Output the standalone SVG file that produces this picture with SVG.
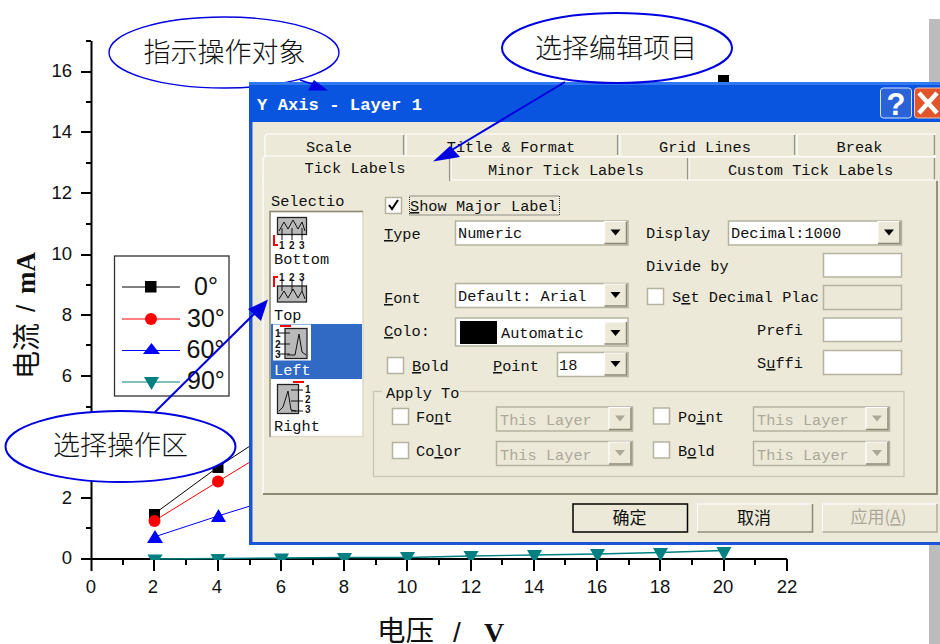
<svg xmlns="http://www.w3.org/2000/svg" width="940" height="644" viewBox="0 0 940 644">
<style>
.tick{font:18.5px "Liberation Sans",Arial,sans-serif;fill:#111}
.leg{font:25px "Liberation Sans",Arial,sans-serif;fill:#111}
.axis{stroke:#000;stroke-width:2;fill:none}
.m{font:15.3px "Liberation Mono","DejaVu Sans Mono",monospace;fill:#111}
.dis{fill:#aca899}
.call{fill:#fff;stroke:#0000e0;stroke-width:2}
.ct{font:27px "Noto Sans CJK SC",sans-serif;font-weight:300;fill:#111;text-anchor:middle}
.btnt{font:17px "Noto Sans CJK SC",sans-serif;fill:#111;text-anchor:middle}
.wb{fill:#fff;stroke:#b5b29e;stroke-width:1.5}
.cb{fill:#fff;stroke:#b5b29e;stroke-width:1.5}
.ah{fill:#000}
.dah{fill:#aca899}
.tab{fill:#ece9d8;stroke:#fff;stroke-width:1.2}
.tabr{stroke:#9a9684;stroke-width:1.5}
.ib{fill:#b9b9b9;stroke:#222;stroke-width:1.3}
.il{fill:none;stroke:#111;stroke-width:1}
.rd{fill:none;stroke:#f00;stroke-width:2}
.in{font:bold 10px "Liberation Sans",sans-serif;fill:#111}
</style>
<defs>
<clipPath id="plotclip"><rect x="92" y="40" width="700" height="520"/></clipPath>
<polygon id="dn" points="-7.500,-6.500 7.500,-6.500 0,7" fill="#008080"/>
<g id="bevel"><rect x="-11" y="-11" width="22" height="22" fill="#ece9d8"/><path d="M-11 11V-11H11" fill="none" stroke="#fff" stroke-width="1.200"/><path d="M-11 11H11V-11" fill="none" stroke="#8c8975" stroke-width="1.500"/></g>
<g id="arrow-btn"><use href="#bevel"/><polygon points="-5,-3 5,-3 0,3" class="ah"/></g>
<g id="arrow-dis"><use href="#bevel"/><polygon points="-5,-3 5,-3 0,3" class="dah"/></g>
</defs>
<rect width="940" height="644" fill="#fff"/>
<g id="gray-strip"><rect x="929" y="19" width="11" height="625" fill="#bcbcbc"/></g>

<g id="plot">
<path class="axis" d="M91.500 41V559H787M81 72H91M81 132H91M81 193H91M81 255H91M81 315H91M81 376H91M81 437H91M81 498H91M81 559H91M86 41H91M86 102H91M86 163H91M86 224H91M86 285H91M86 345H91M86 407H91M86 467H91M86 528H91"/>
<path class="axis" d="M91.500 559V571M154 559V571M218 559V571M281 559V571M344 559V571M407 559V571M471 559V571M534 559V571M597 559V571M660 559V571M724 559V571M787 559V571M123 559V565M186 559V565M250 559V565M313 559V565M376 559V565M439 559V565M502 559V565M565 559V565M629 559V565M692 559V565M755 559V565"/>
<g class="tick" text-anchor="end">
<text x="72" y="77">16</text><text x="72" y="138">14</text><text x="72" y="199">12</text><text x="72" y="260">10</text><text x="72" y="321">8</text><text x="72" y="382">6</text><text x="72" y="504">2</text><text x="72" y="564">0</text>
</g>
<g class="tick" text-anchor="middle">
<text x="91" y="593">0</text><text x="153" y="593">2</text><text x="217" y="593">4</text><text x="281" y="593">6</text><text x="344" y="593">8</text><text x="407" y="593">10</text><text x="471" y="593">12</text><text x="534" y="593">14</text><text x="597" y="593">16</text><text x="660" y="593">18</text><text x="723" y="593">20</text><text x="787" y="593">22</text>
</g>
<text transform="translate(37,379) rotate(-90)" font-family="'Noto Sans CJK SC',sans-serif" font-size="28" fill="#111">电流</text>
<text transform="translate(35,312) rotate(-90)" font-family="'Liberation Sans',sans-serif" font-size="26" fill="#111">/</text>
<text transform="translate(35,294) rotate(-90)" font-family="'Liberation Serif',serif" font-size="27" font-weight="bold" fill="#111">mA</text>
<text x="377" y="641" font-family="'Noto Sans CJK SC',sans-serif" font-size="28.500" fill="#111">电压</text>
<text x="453" y="642" font-family="'Liberation Sans',sans-serif" font-size="28" fill="#111">/</text>
<text x="484" y="642" font-family="'Liberation Serif',serif" font-size="28" font-weight="bold" fill="#111">V</text>

<g clip-path="url(#plotclip)">
<polyline points="154,514 218,467 250,446" fill="none" stroke="#000" stroke-width="1"/>
<polyline points="154,521 218,481.500 250,462" fill="none" stroke="#f00" stroke-width="1"/>
<polyline points="154,537 218,516 250,506" fill="none" stroke="#00f" stroke-width="1"/>
<rect x="149" y="509" width="11" height="11" fill="#000"/>
<rect x="212.500" y="462" width="11" height="11" fill="#000"/>
<rect x="718" y="75" width="11" height="11" fill="#000"/>
<circle cx="154.500" cy="521" r="6" fill="#f00"/>
<circle cx="218" cy="481.500" r="6" fill="#f00"/>
<polygon points="155,530 163,543 147,543" fill="#00f"/>
<polygon points="218.500,509 226,522 211,522" fill="#00f"/>
<polyline points="154,559 218,558.500 281,558 344,557.500 407,557.500 471,556 534,555 597,554 660,552.500 724,550.500" fill="none" stroke="#008080" stroke-width="1.300"/>
<use href="#dn" x="155" y="561"/><use href="#dn" x="218" y="560.500"/><use href="#dn" x="281.500" y="560"/><use href="#dn" x="344.500" y="559.500"/><use href="#dn" x="407.500" y="558.500"/><use href="#dn" x="471" y="557.500"/><use href="#dn" x="534.500" y="556.500"/><use href="#dn" x="597.500" y="555.500"/><use href="#dn" x="660.500" y="554.500"/><use href="#dn" x="724" y="553.500"/>
</g>
</g>

<g id="legend">
<rect x="114.500" y="256" width="114.500" height="140" fill="#fff" stroke="#333" stroke-width="1.300"/>
<line x1="122" y1="287" x2="180" y2="287" stroke="#000" stroke-width="1"/><rect x="145" y="281" width="11.500" height="11.500" fill="#000"/>
<line x1="122" y1="319" x2="180" y2="319" stroke="#f00" stroke-width="1"/><circle cx="151" cy="319" r="6" fill="#f00"/>
<line x1="122" y1="350.500" x2="180" y2="350.500" stroke="#00f" stroke-width="1"/><polygon points="151.500,343 160,354 143,354" fill="#00f"/>
<line x1="122" y1="382" x2="180" y2="382" stroke="#008080" stroke-width="1"/><polygon points="144,377 159,377 151.500,390" fill="#008080"/>
<text class="leg" x="194" y="295">0°</text><text class="leg" x="187" y="327">30°</text><text class="leg" x="186.500" y="358">60°</text><text class="leg" x="187" y="389">90°</text>
</g>

<g id="callout-object"><ellipse class="call" style="stroke-width:1.400" cx="224" cy="52.500" rx="115" ry="35.500"/><text class="ct" x="224.500" y="62">指示操作对象</text></g>

<g id="dialog">
<rect x="249" y="82" width="691" height="463" fill="#1a54d8"/>
<rect x="249" y="82" width="691" height="40" fill="#0a55e0"/>
<rect x="249" y="82" width="691" height="3" fill="#2f7af0"/>
<rect x="252.500" y="122" width="690" height="420" fill="#ece9d8"/>
<text x="257" y="110" font-family="'Liberation Mono',monospace" font-weight="bold" font-size="17.200" fill="#fff">Y Axis - Layer 1</text>
<g id="help-button"><rect x="880.500" y="88" width="31" height="30" rx="3" fill="#2a63d8" stroke="#d6e2fb" stroke-width="1"/><text x="896" y="115" text-anchor="middle" font-family="'Liberation Sans',sans-serif" font-weight="bold" font-size="31" fill="#fff">?</text></g>
<g id="close-button"><rect x="914.500" y="88" width="30" height="30" rx="3" fill="#e2552a" stroke="#f4c7b5" stroke-width="1"/><path d="M919 93L937 113M937 93L919 113" stroke="#fff" stroke-width="4.500" fill="none"/></g>

<g id="tabs">
<path class="tab" d="M265 157V136L267 134H403V157Z"/><path class="tab" d="M406 157V134H617V157Z"/><path class="tab" d="M620 157V134H794V157Z"/><path class="tab" d="M797 157V134H935V157Z"/>
<path class="tabr" d="M403.500 135V155M617.500 135V155M794.500 135V155M934.500 135V155" fill="none"/>
<path class="tab" d="M451 181V157H687V181Z"/><path class="tab" d="M689 181V157H935V181Z"/>
<path class="tabr" d="M687.500 158V180M934.500 158V180" fill="none"/>
<path d="M263 494V180H937V494Z" fill="#ece9d8"/>
<path d="M263 494V180H449M451 180H936" fill="none" stroke="#fff" stroke-width="1.200"/>
<path d="M263 494H937V181" fill="none" stroke="#8c8975" stroke-width="1.800"/>
<path d="M263 181V158L265 156H449V181" fill="#ece9d8" stroke="#fff" stroke-width="1.200"/>
<path d="M449.500 158V181" stroke="#9a9684" stroke-width="1.500"/>
<rect x="264" y="178" width="185" height="4" fill="#ece9d8"/>
<g class="m" text-anchor="middle">
<text x="329" y="151.500">Scale</text><text x="511" y="151.500">Title &amp; Format</text><text x="705" y="151.500">Grid Lines</text><text x="859.500" y="151.500">Break</text>
<text x="355" y="172.500">Tick Labels</text><text x="566" y="174.500">Minor Tick Labels</text><text x="810.500" y="174.500">Custom Tick Labels</text>
</g>
</g>

<g id="selection-list">
<text class="m" x="271" y="206">Selectio</text>
<rect x="270" y="211.500" width="93" height="225" fill="#fff" stroke="#dcd9c8" stroke-width="1.500"/>
<path d="M270 437V211.500H363" fill="none" stroke="#8c8975" stroke-width="1.500"/>
<rect x="271" y="324" width="91" height="55" fill="#316ac5"/>
<rect x="273" y="324.500" width="38" height="36" fill="#fff"/>
<g id="icon-bottom"><rect class="ib" x="277.500" y="217.500" width="29" height="17"/><path class="il" d="M279 231L284 222 288 229 293 220 298 229 302 222 305 231M282 228V240M292 228V240M302 228V240"/><text class="in" x="279" y="249">1</text><text class="in" x="289" y="249">2</text><text class="in" x="299" y="249">3</text><path class="rd" d="M274 235V245H278"/></g>
<text class="m" x="274" y="264">Bottom</text>
<g id="icon-top"><rect class="ib" x="277.500" y="286" width="29" height="16"/><path class="il" d="M279 299L284 291 288 298 293 289 298 298 302 291 305 299M282 279V291M292 279V291M302 279V291"/><text class="in" x="279" y="281">1</text><text class="in" x="289" y="281">2</text><text class="in" x="299" y="281">3</text><path class="rd" d="M274 287V277H278"/></g>
<text class="m" x="274" y="320">Top</text>
<g id="icon-left"><rect class="ib" x="285" y="328.500" width="22" height="30"/><path class="il" d="M278 333H290M278 344H290M278 354H290M287 355H295L299 334 302 352 306 355"/><text class="in" x="275" y="337">1</text><text class="in" x="275" y="348">2</text><text class="in" x="275" y="358">3</text><path class="rd" d="M291 326H280"/></g>
<text class="m" x="274" y="375" style="fill:#fff">Left</text>
<g id="icon-right"><rect class="ib" x="277.500" y="384.500" width="21" height="29"/><path class="il" d="M291 390H303M291 401H303M291 411H303M279 411L283 407 288 391 291 410 296 411"/><text class="in" x="305" y="393">1</text><text class="in" x="305" y="403">2</text><text class="in" x="305" y="413">3</text><path class="rd" d="M293 382H304"/></g>
<text class="m" x="274" y="431">Right</text>
</g>

<g id="controls">
<rect class="cb" x="385.500" y="197.500" width="16" height="16"/><path d="M389 205L392 209 398 200" fill="none" stroke="#000" stroke-width="2"/>
<rect x="409.500" y="196" width="150" height="19" fill="none" stroke="#333" stroke-width="1" stroke-dasharray="1 1"/>
<text class="m" x="410" y="211"><tspan text-decoration="underline">S</tspan>how Major Label</text>
<text class="m" x="384" y="239"><tspan text-decoration="underline">T</tspan>ype</text>
<rect class="wb" x="455.500" y="221" width="172.500" height="24"/><use href="#arrow-btn" x="615.500" y="232.500"/><text class="m" x="458" y="238">Numeric</text>
<text class="m" x="646" y="238">Display</text>
<rect class="wb" x="728.500" y="221" width="173" height="24"/><use href="#arrow-btn" x="889" y="232.500"/><text class="m" x="731" y="238">Decimal:1000</text>
<text class="m" x="646" y="271">Divide by</text>
<rect class="wb" x="823.500" y="253.500" width="78" height="23.500"/>
<text class="m" x="384" y="303"><tspan text-decoration="underline">F</tspan>ont</text>
<rect class="wb" x="455.500" y="283.500" width="172.500" height="24"/><use href="#arrow-btn" x="615.500" y="295"/><text class="m" x="458" y="301">Default: Arial</text>
<rect class="cb" x="647.500" y="288.500" width="16" height="16"/>
<text class="m" x="672" y="302">S<tspan text-decoration="underline">e</tspan>t Decimal Plac</text>
<rect x="823.500" y="285.500" width="78" height="24" fill="#ece9d8" stroke="#b5b29e" stroke-width="1.500"/>
<text class="m" x="384" y="336"><tspan text-decoration="underline">C</tspan>olo:</text>
<rect class="wb" x="455.500" y="318" width="172.500" height="28"/><rect x="460" y="321" width="37" height="23" fill="#000"/><use href="#arrow-btn" x="615.500" y="333"/><text class="m" x="501" y="338">Automatic</text>
<text class="m" x="757" y="335">Prefi</text><rect class="wb" x="823.500" y="318" width="78" height="23.500"/>
<rect class="cb" x="387.500" y="357.500" width="16" height="16"/><text class="m" x="412" y="371"><tspan text-decoration="underline">B</tspan>old</text>
<text class="m" x="493" y="371"><tspan text-decoration="underline">P</tspan>oint</text>
<rect class="wb" x="557.500" y="352.500" width="70.500" height="24"/><use href="#arrow-btn" x="615.500" y="364"/><text class="m" x="559" y="370">18</text>
<text class="m" x="757" y="368">S<tspan text-decoration="underline">u</tspan>ffi</text><rect class="wb" x="823.500" y="350.500" width="78" height="24"/>
</g>

<g id="apply-to">
<rect x="373.500" y="391.500" width="530.500" height="85" fill="none" stroke="#c9c6b2" stroke-width="1.300"/>
<rect x="382" y="388" width="78" height="8" fill="#ece9d8"/>
<text class="m" x="386" y="398">Apply To</text>
<rect class="cb" x="392.500" y="408.500" width="16" height="16"/><text class="m" x="416" y="422">Fo<tspan text-decoration="underline">n</tspan>t</text>
<rect class="cb" x="392.500" y="442.500" width="16" height="16"/><text class="m" x="416" y="456">Co<tspan text-decoration="underline">l</tspan>or</text>
<rect class="wb" x="496.500" y="407" width="136" height="24" style="fill:#ece9d8"/><use href="#arrow-dis" x="620" y="418.500"/><text class="m dis" x="500" y="425">This Layer</text>
<rect class="wb" x="496.500" y="441.500" width="136" height="24" style="fill:#ece9d8"/><use href="#arrow-dis" x="620" y="453"/><text class="m dis" x="500" y="460">This Layer</text>
<rect class="cb" x="653.500" y="408" width="16" height="16"/><text class="m" x="678" y="422">Po<tspan text-decoration="underline">i</tspan>nt</text>
<rect class="cb" x="653.500" y="442" width="16" height="16"/><text class="m" x="678" y="456">B<tspan text-decoration="underline">o</tspan>ld</text>
<rect class="wb" x="753.500" y="407" width="136" height="24" style="fill:#ece9d8"/><use href="#arrow-dis" x="877" y="418.500"/><text class="m dis" x="757" y="425">This Layer</text>
<rect class="wb" x="753.500" y="441.500" width="136" height="24" style="fill:#ece9d8"/><use href="#arrow-dis" x="877" y="453"/><text class="m dis" x="757" y="460">This Layer</text>
</g>

<g id="buttons">
<rect x="573" y="504" width="114.500" height="28" fill="#ece9d8" stroke="#000" stroke-width="1.500"/><text class="btnt" x="629.500" y="524">确定</text>
<g><rect x="697.500" y="504" width="115" height="28" fill="#ece9d8" stroke="#fff" stroke-width="1"/><path d="M697.500 532H812.500V504" fill="none" stroke="#8c8975" stroke-width="1.500"/><text class="btnt" x="754" y="524">取消</text></g>
<g><rect x="822.500" y="504" width="114.500" height="28" fill="#ece9d8" stroke="#fff" stroke-width="1"/><path d="M822.500 532H937V504" fill="none" stroke="#aca899" stroke-width="1.500"/><text class="btnt dis" x="878.500" y="523" style="fill:#aca899">应用(<tspan text-decoration="underline">A</tspan>)</text></g>
</g>
</g>

<g id="connectors">
<line x1="300" y1="80" x2="318" y2="86" stroke="#0000e0" stroke-width="1.800"/>
<polygon points="328,90.500 308,90.500 314,80" fill="#0000e0"/>
<line x1="565" y1="82" x2="450" y2="151" stroke="#0000e0" stroke-width="2"/>
<polygon points="433,161.500 450,146 460,157" fill="#0000e0"/>
<line x1="155" y1="412" x2="256" y2="312" stroke="#0000e0" stroke-width="2"/>
<polygon points="268,299.500 261,321 248,309" fill="#0000e0"/>
</g>

<g id="callout-edit"><ellipse class="call" cx="617" cy="48" rx="115" ry="35"/><text class="ct" x="616" y="58">选择编辑项目</text></g>
<g id="callout-area"><ellipse class="call" cx="120.500" cy="446.500" rx="115" ry="35.500"/><text class="ct" x="120.500" y="455">选择操作区</text></g>
</svg>
